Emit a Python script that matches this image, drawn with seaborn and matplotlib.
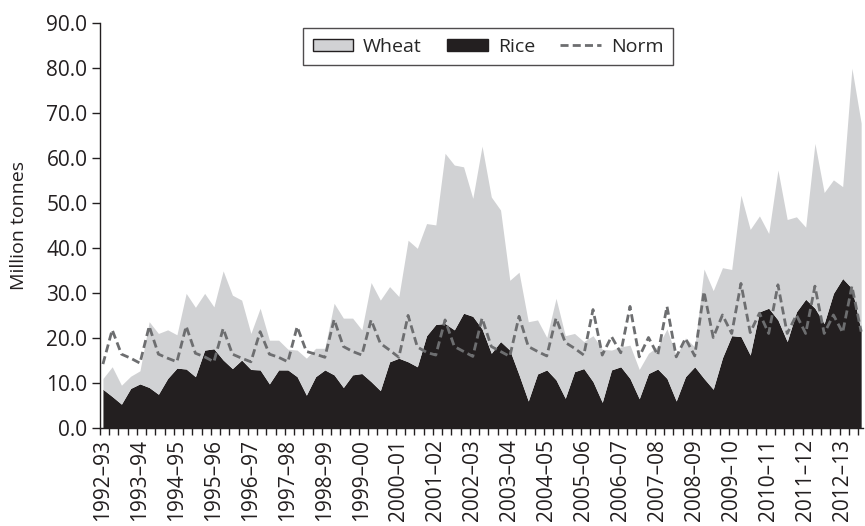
import numpy as np
import pandas as pd

import matplotlib
matplotlib.use('Agg')
import matplotlib.pyplot as plt
from matplotlib.patches import Patch
from matplotlib.lines import Line2D
import seaborn as sns

# Quarterly stocks, million tonnes
years = ['1992–93', '1993–94', '1994–95', '1995–96', '1996–97', '1997–98', '1998–99',
         '1999–00', '2000–01', '2001–02', '2002–03', '2003–04', '2004–05', '2005–06',
         '2006–07', '2007–08', '2008–09', '2009–10', '2010–11', '2011–12', '2012–13']

rice = [8.6, 7.0, 5.3, 8.8, 9.8, 9.0, 7.5, 11.0, 13.3, 13.1, 11.4, 17.3, 17.6, 15.1,
        13.2, 15.1, 13.0, 12.9, 9.8, 12.9, 12.9, 11.4, 7.3, 11.4, 12.9, 11.8, 9.0, 11.8,
        12.1, 10.3, 8.3, 14.7, 15.5, 14.7, 13.6, 20.5, 23.0, 23.2, 21.8, 25.5, 24.8, 22.0,
        16.6, 19.2, 17.3, 11.8, 6.0, 12.0, 12.9, 10.7, 6.6, 12.5, 13.2, 10.3, 5.7, 12.9,
        13.6, 11.0, 6.5, 12.1, 13.1, 11.0, 6.0, 11.4, 13.6, 11.0, 8.6, 15.6, 20.5, 20.3,
        16.2, 25.8, 26.6, 24.0, 19.2, 25.8, 28.6, 26.6, 23.2, 29.9, 33.2, 31.0, 21.5]

wheat = [2.4, 6.6, 4.2, 2.7, 2.9, 14.6, 13.5, 10.8, 7.4, 16.8, 15.4, 12.6, 9.3, 19.8,
         16.3, 13.3, 8.0, 13.7, 9.7, 6.6, 4.6, 5.9, 8.2, 6.3, 4.8, 15.9, 15.4, 12.6,
         9.7, 22.0, 20.1, 16.7, 13.7, 27.0, 26.3, 24.9, 22.1, 37.8, 36.6, 32.5, 26.2, 40.6,
         34.7, 29.2, 15.5, 22.8, 17.6, 12.0, 7.2, 18.1, 13.9, 8.5, 6.0, 10.2, 11.8, 4.4,
         4.4, 7.4, 6.5, 4.5, 5.0, 11.0, 10.0, 8.6, 4.4, 24.3, 21.9, 20.0, 14.7, 31.4,
         27.9, 21.3, 16.6, 33.3, 27.1, 21.1, 16.0, 36.6, 29.1, 25.2, 20.4, 48.9, 46.2]

norm = [14.2, 21.8, 16.4, 15.5, 14.4, 22.6, 16.4, 15.5, 14.7, 22.6, 16.6, 15.8, 14.7, 22.1,
        16.4, 15.5, 14.7, 21.4, 16.4, 15.7, 14.7, 22.5, 17.0, 16.4, 15.7, 24.1, 18.1, 17.0,
        16.2, 24.0, 18.8, 17.3, 15.7, 25.0, 18.0, 16.8, 16.2, 24.0, 18.1, 17.0, 15.9, 24.4,
        18.1, 17.0, 15.9, 24.8, 18.1, 17.0, 16.0, 24.4, 19.0, 17.7, 16.2, 26.3, 16.2, 20.3,
        16.7, 27.0, 15.8, 20.1, 16.2, 27.0, 15.8, 19.9, 16.0, 30.3, 20.1, 25.1, 21.0, 32.1,
        21.2, 25.5, 21.0, 31.8, 21.0, 25.1, 21.0, 31.5, 21.0, 25.1, 21.2, 31.5, 21.4]


def main():
    sns.set_theme(style='ticks')
    plt.rcParams['font.family'] = ['Open Sans', 'DejaVu Sans']

    df = pd.DataFrame({'rice': rice, 'wheat': wheat, 'norm': norm})
    df['q'] = np.arange(len(df))
    df['total'] = df['rice'] + df['wheat']

    fig = plt.figure(figsize=(8.65, 5.26), dpi=100)
    ax = fig.add_axes([0.1156, 0.1863, 0.8821, 0.7705])

    grey = '#d1d2d4'
    black = '#231f20'
    dash = '#6d6e70'
    dash_style = (0, (2.9, 1.5))

    # Stacked areas: rice at the bottom, wheat on top
    ax.fill_between(df['q'], 0, df['rice'], color=black, lw=0)
    ax.fill_between(df['q'], df['rice'], df['total'], color=grey, lw=0)
    sns.lineplot(data=df, x='q', y='norm', ax=ax, color=dash, lw=2.0,
                 linestyle=dash_style)

    ax.set_xlim(-0.32, len(df) - 0.8)
    ax.set_ylim(0, 90)
    ax.set_yticks(np.arange(0, 91, 10))
    ax.set_yticklabels([f'{v:.1f}' for v in np.arange(0, 91, 10)], fontsize=15, color=black)
    ax.set_xticks(np.arange(0, len(df), 4))
    ax.set_xticklabels(years, rotation=90, fontsize=15, color=black)
    ax.set_xticks(np.arange(len(df)) - 0.32, minor=True)
    ax.tick_params(axis='x', which='major', length=0, pad=8)
    ax.tick_params(axis='x', which='minor', length=5, width=1, color=black)
    ax.tick_params(axis='y', length=6, width=1, color=black, pad=3)

    ax.set_xlabel('')
    ax.set_ylabel('Million tonnes', fontsize=14, color=black, labelpad=13)
    for side in ['left', 'bottom']:
        ax.spines[side].set_color(black)
        ax.spines[side].set_linewidth(1)
    sns.despine(ax=ax)

    handles = [
        Patch(facecolor=grey, edgecolor=black, lw=1, label='Wheat'),
        Patch(facecolor=black, edgecolor=black, label='Rice'),
        Line2D([0], [0], color=dash, lw=2, linestyle=dash_style, label='Norm'),
    ]
    leg = ax.legend(handles=handles, loc='upper center', bbox_to_anchor=(0.5085, 0.987),
                    borderaxespad=0, ncol=3, fontsize=14, frameon=True, fancybox=False,
                    edgecolor=black, handlelength=2.1, handleheight=0.6, columnspacing=1.3,
                    borderpad=0.5, handletextpad=0.5)
    leg.get_frame().set_linewidth(1)

    fig.savefig('out.png', dpi=100)
    plt.close(fig)


if __name__ == '__main__':
    main()
